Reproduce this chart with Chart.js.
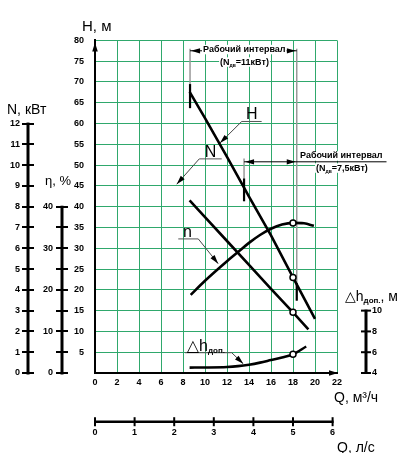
<!DOCTYPE html>
<html><head><meta charset="utf-8">
<script src="https://cdn.jsdelivr.net/npm/chart.js@4"></script>
<style>html,body{margin:0;padding:0;background:#fff}#wrap{width:403px;height:453px;position:relative}</style>
</head><body><div id="wrap"><canvas id="c"></canvas></div>
<script>
// ---- data ----
const qH = [8.6, 10, 12, 14, 16, 18, 20];
const headH = [67.6, 61.3, 52.0, 42.4, 33.1, 23.0, 13.0];
const qN = [8.6, 10, 12, 14, 16, 18, 19.4];
const powerN = [8.3, 7.5, 6.35, 5.2, 4.05, 2.92, 2.1];
const qEta = [8.7, 10, 12, 13, 14, 15, 16, 17, 18, 19, 19.9];
const effEta = [18.8, 22.2, 26.9, 29.1, 31.3, 33.2, 34.7, 35.7, 36.1, 36.0, 35.4];
const qDh = [8.6, 10, 12, 13, 14, 15, 16, 17, 18, 19.2];
const npshDh = [4.52, 4.53, 4.58, 4.66, 4.8, 5.0, 5.25, 5.5, 5.8, 6.55];
const markQ = 18;
const qTicks = [0, 2, 4, 6, 8, 10, 12, 14, 16, 18, 20, 22];
const qLsTicks = [0, 1, 2, 3, 4, 5, 6];
const hTicks = [0, 5, 10, 15, 20, 25, 30, 35, 40, 45, 50, 55, 60, 65, 70, 75, 80];
const nTicks = [0, 1, 2, 3, 4, 5, 6, 7, 8, 9, 10, 11, 12];
const etaTicks = [0, 5, 10, 15, 20, 25, 30, 35, 40];
const dhTicks = [4, 6, 8, 10];

// ---- styling ----
const FONT = '"Liberation Sans", Arial, "DejaVu Sans", sans-serif';
const GREEN = '#2fa86c';
const tickFont = {family: FONT, size: 9, weight: 'bold'};

// annotation definitions (in Q / H units)
const intervalA = {q0: 8.64, q1: 18.34, hLine: 77.5, hTop: 78.0, grayEnd0: 69.5, tick0: [69.5, 63.7], grayEnd1: 17.4, tick1: [21.6, 17.4],
  title: 'Рабочий интервал', titleAt: [13.57, 77.2], sub: ['(N', 'дв', '=11кВт)'], subAt: [13.59, 74.2]};
const intervalB = {q0: 13.55, q1: 18.34, qEnd: 26.5, hLine: 50.8, grayTop: 51.6, grayEnd: 46.8, tick: [46.8, 41.3],
  title: 'Рабочий интервал', titleAt: [18.64, 51.6], sub: ['(N', 'дв', '=7,5кВт)'], subAt: [22.45, 48.7]};
const curveLabels = [
  {main: 'H', sub: '', textQ: 14.25, ul: [13.34, 15.15, 60.5], from: 0, tip: [11.36, 55.3]},
  {main: 'N', sub: '', textQ: 10.5, ul: [9.48, 11.52, 51.5], from: 0, tip: [7.43, 45.4]},
  {main: 'n', sub: '', textQ: 8.4, ul: [7.57, 9.39, 32.25], from: 1, tip: [11.2, 26.3]},
  {main: '\u25B3h', sub: 'доп.', textQ: null, textLeftQ: 8.34, ul: [8.18, 12.43, 4.88], from: 1, tip: [13.48, 2.2]}
];

const pts = (qs, vs) => qs.map((q, i) => ({x: q, y: vs[i]}));
const marker = {
  pointRadius: c => (c.raw && c.raw.x === markQ) ? 3 : 0,
  pointBackgroundColor: '#fff', pointBorderColor: '#000', pointBorderWidth: 1.5,
  borderColor: '#000', borderWidth: 2.6, fill: false
};

function setFont(ctx, size, bold) { ctx.font = (bold ? 'bold ' : '') + size + 'px ' + FONT; }
function rich(ctx, parts, x, y, align, bg) {
  let w = 0;
  parts.forEach(p => { setFont(ctx, p.s, p.b); p.w = ctx.measureText(p.t).width; w += p.w; });
  let cx = align === 'center' ? x - w / 2 : (align === 'right' ? x - w : x);
  if (bg) { ctx.fillStyle = '#fff'; ctx.fillRect(cx - 1, y - parts[0].s * 0.8, w + 2, parts[0].s * 1.05); }
  ctx.fillStyle = '#000'; ctx.textAlign = 'left'; ctx.textBaseline = 'alphabetic';
  parts.forEach(p => { setFont(ctx, p.s, p.b); ctx.fillText(p.t, cx, y + (p.dy || 0)); cx += p.w; });
  return w;
}
function seg(ctx, x1, y1, x2, y2, w, col) {
  ctx.beginPath(); ctx.lineWidth = w; ctx.strokeStyle = col; ctx.moveTo(x1, y1); ctx.lineTo(x2, y2); ctx.stroke();
}
function head(ctx, tx, ty, fx, fy, len, hw) {
  const a = Math.atan2(ty - fy, tx - fx);
  ctx.beginPath(); ctx.fillStyle = '#000';
  ctx.moveTo(tx, ty);
  ctx.lineTo(tx - len * Math.cos(a) + hw * Math.sin(a), ty - len * Math.sin(a) - hw * Math.cos(a));
  ctx.lineTo(tx - len * Math.cos(a) - hw * Math.sin(a), ty - len * Math.sin(a) + hw * Math.cos(a));
  ctx.closePath(); ctx.fill();
}

const decor = {
  id: 'decor',
  beforeDatasetsDraw(chart) {
    const ctx = chart.ctx, X = chart.scales.x, Y = chart.scales.y;
    const px = q => X.getPixelForValue(q), py = h => Y.getPixelForValue(h);
    ctx.save();
    const A = intervalA;
    seg(ctx, px(A.q0), py(A.hTop), px(A.q0), py(A.grayEnd0), 1.5, '#999');
    seg(ctx, px(A.q1), py(A.hTop), px(A.q1), py(A.grayEnd1), 1.5, '#999');
    seg(ctx, px(A.q0), py(A.hLine), px(A.q1), py(A.hLine), 1, '#000');
    head(ctx, px(A.q0) + 1, py(A.hLine), px(A.q1), py(A.hLine), 9, 2.6);
    head(ctx, px(A.q1) - 1, py(A.hLine), px(A.q0), py(A.hLine), 9, 2.6);
    const B = intervalB;
    seg(ctx, px(B.q0), py(B.grayTop), px(B.q0), py(B.grayEnd), 1.5, '#999');
    seg(ctx, px(B.q0), py(B.hLine), px(B.qEnd), py(B.hLine), 1, '#000');
    head(ctx, px(B.q0) + 1, py(B.hLine), px(B.q1), py(B.hLine), 9, 2.6);
    head(ctx, px(B.q1) - 1, py(B.hLine), px(B.q0), py(B.hLine), 9, 2.6);
    rich(ctx, [{t: A.title, s: 9, b: true}], px(A.titleAt[0]), py(A.titleAt[1]), 'center', true);
    rich(ctx, [{t: A.sub[0], s: 9, b: true}, {t: A.sub[1], s: 5, b: true, dy: 2}, {t: A.sub[2], s: 9, b: true}], px(A.subAt[0]), py(A.subAt[1]), 'center', true);
    rich(ctx, [{t: B.title, s: 9, b: true}], px(B.titleAt[0]), py(B.titleAt[1]), 'left', true);
    rich(ctx, [{t: B.sub[0], s: 9, b: true}, {t: B.sub[1], s: 5, b: true, dy: 2}, {t: B.sub[2], s: 9, b: true}], px(B.subAt[0]), py(B.subAt[1]), 'center', true);
    ctx.restore();
  },
  afterDatasetsDraw(chart) {
    const ctx = chart.ctx, X = chart.scales.x, Y = chart.scales.y, a = chart.chartArea;
    const px = q => X.getPixelForValue(q), py = h => Y.getPixelForValue(h);
    ctx.save();
    ctx.lineCap = 'butt';
    const A = intervalA, B = intervalB;
    seg(ctx, px(A.q0), py(A.tick0[0]), px(A.q0), py(A.tick0[1]), 2.2, '#000');
    seg(ctx, px(A.q1), py(A.tick1[0]), px(A.q1), py(A.tick1[1]), 2.2, '#000');
    seg(ctx, px(B.q0), py(B.tick[0]), px(B.q0), py(B.tick[1]), 2.2, '#000');
    curveLabels.forEach(L => {
      const x0 = px(L.ul[0]), x1 = px(L.ul[1]), yu = py(L.ul[2]);
      seg(ctx, x0, yu, x1, yu, 1, '#555');
      const sx = L.from === 0 ? x0 : x1;
      const tx = px(L.tip[0]), ty = py(L.tip[1]);
      seg(ctx, sx, yu, tx, ty, 1, '#444');
      head(ctx, tx, ty, sx, yu, 9, 2.6);
      if (L.sub) {
        rich(ctx, [{t: L.main, s: 16, b: false}, {t: L.sub, s: 8, b: true, dy: 2}], px(L.textLeftQ), yu - 2, 'left', false);
      } else {
        rich(ctx, [{t: L.main, s: 16, b: false}], px(L.textQ), yu - 2, 'center', false);
      }
    });
    head(ctx, a.left, a.top + 2, a.left, a.top + 20, 9, 2.8);
    head(ctx, a.right + 1, a.bottom, a.right - 20, a.bottom, 9, 2.8);
    const sN = chart.scales.yN, sE = chart.scales.yEta, sD = chart.scales.yDh, sQ = chart.scales.x2;
    const xn = sN.right - 6, xe = sE.right - 6;
    seg(ctx, xn, sN.getPixelForValue(0) + 1.5, xn, sN.getPixelForValue(nTicks[nTicks.length - 1]) - 1, 3, '#000');
    seg(ctx, xe, sE.getPixelForValue(0) + 1.5, xe, sE.getPixelForValue(etaTicks[etaTicks.length - 1]) - 1, 3, '#000');
    const xd = sD.left + 29;
    seg(ctx, xd, sD.getPixelForValue(dhTicks[0]) + 1, xd, sD.getPixelForValue(dhTicks[dhTicks.length - 1]) - 1, 3, '#000');
    dhTicks.forEach(v => seg(ctx, xd - 5, sD.getPixelForValue(v), xd + 5, sD.getPixelForValue(v), 2, '#000'));
    const yq = sQ.top + 28.7;
    seg(ctx, sQ.getPixelForValue(0) - 1, yq, sQ.getPixelForValue(qLsTicks[qLsTicks.length - 1]) + 1, yq, 2.6, '#000');
    qLsTicks.forEach(v => seg(ctx, sQ.getPixelForValue(v), yq - 4.5, sQ.getPixelForValue(v), yq + 4.5, 2, '#000'));
    rich(ctx, [{t: 'H, м', s: 15}], a.left - 13, a.top - 9, 'left');
    rich(ctx, [{t: 'N, кВт', s: 14}], 7, sN.getPixelForValue(12) - 9.5, 'left');
    rich(ctx, [{t: 'η, %', s: 13}], 45, sE.getPixelForValue(40) - 22, 'left');
    rich(ctx, [{t: '\u25B3h', s: 14}, {t: 'доп.', s: 8, b: true, dy: 2}, {t: ', м', s: 14}], sD.left + 8, sD.getPixelForValue(10) - 10, 'left');
    rich(ctx, [{t: 'Q, м³/ч', s: 14}], a.right - 3, a.bottom + 29, 'left');
    rich(ctx, [{t: 'Q, л/с', s: 14}], a.right, sQ.bottom - 1, 'left');
    ctx.restore();
  }
};

new Chart(document.getElementById('c'), {
  type: 'line',
  data: {
    datasets: [
      Object.assign({label: 'H', data: pts(qH, headH), yAxisID: 'y', tension: 0}, marker),
      Object.assign({label: 'N', data: pts(qN, powerN), yAxisID: 'yN', tension: 0}, marker),
      Object.assign({label: 'η', data: pts(qEta, effEta), yAxisID: 'yEta', cubicInterpolationMode: 'monotone'}, marker),
      Object.assign({label: 'Δh', data: pts(qDh, npshDh), yAxisID: 'yDh', cubicInterpolationMode: 'monotone'}, marker)
    ]
  },
  options: {
    responsive: true, maintainAspectRatio: false, animation: false, devicePixelRatio: 1,
    layout: {padding: {top: 24, left: 0, right: 0, bottom: 0}},
    plugins: {legend: {display: false}, tooltip: {enabled: false}},
    events: [],
    scales: {
      x: {type: 'linear', position: 'bottom', weight: 0, min: 0, max: 22,
        afterBuildTicks: s => { s.ticks = qTicks.map(v => ({value: v})); },
        ticks: {autoSkip: false, maxRotation: 0, padding: 4, color: '#000', font: tickFont},
        grid: {color: GREEN, lineWidth: 1, drawTicks: false},
        border: {color: '#000', width: 2},
        afterFit: s => { s.height = 20; }},
      x2: {type: 'linear', position: 'bottom', weight: 1, min: 0, max: 22 / 3.6,
        afterBuildTicks: s => { s.ticks = qLsTicks.map(v => ({value: v})); },
        ticks: {autoSkip: false, maxRotation: 0, padding: 34, color: '#000', font: tickFont},
        grid: {display: false, drawTicks: false},
        border: {display: false},
        afterFit: s => { s.height = 60; }},
      yN: {type: 'linear', position: 'left', weight: 3, min: 0, max: 16,
        afterBuildTicks: s => { s.ticks = nTicks.map(v => ({value: v})); },
        ticks: {autoSkip: false, padding: 2, color: '#000', font: tickFont},
        grid: {drawOnChartArea: false, drawTicks: true, tickLength: 12, tickColor: '#000', tickWidth: 2, color: '#000', lineWidth: 2},
        border: {display: false},
        afterFit: s => { s.width = 34; }},
      yEta: {type: 'linear', position: 'left', weight: 2, min: 0, max: 80,
        afterBuildTicks: s => { s.ticks = etaTicks.map(v => ({value: v})); },
        ticks: {autoSkip: false, padding: 3, color: '#000', font: tickFont, callback: v => (v % 10 === 0 ? v : '')},
        grid: {drawOnChartArea: false, drawTicks: true, tickLength: 12, tickColor: '#000', tickWidth: 2, color: '#000', lineWidth: 2},
        border: {display: false},
        afterFit: s => { s.width = 34; }},
      y: {type: 'linear', position: 'left', weight: 1, min: 0, max: 80,
        afterBuildTicks: s => { s.ticks = hTicks.map(v => ({value: v})); },
        ticks: {autoSkip: false, padding: 11, color: '#000', font: tickFont, callback: v => (v === 0 ? '' : v)},
        grid: {color: GREEN, lineWidth: 1, drawTicks: false},
        border: {color: '#000', width: 2},
        afterFit: s => { s.width = 27; }},
      yDh: {type: 'linear', position: 'right', weight: 1, min: 4, max: 36,
        afterBuildTicks: s => { s.ticks = dhTicks.map(v => ({value: v})); },
        ticks: {autoSkip: false, padding: 35, color: '#000', font: tickFont},
        grid: {display: false, drawTicks: false},
        border: {display: false},
        afterFit: s => { s.width = 66; }}
    }
  },
  plugins: [decor]
});
</script></body></html>
